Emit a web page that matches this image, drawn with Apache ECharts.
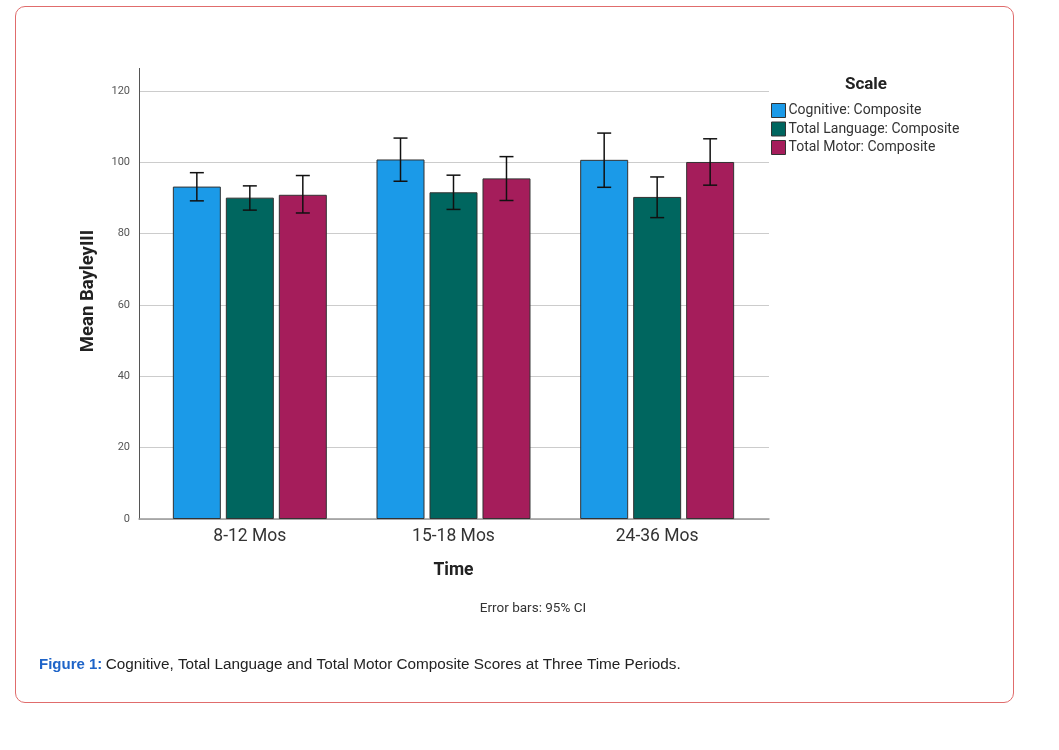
<!DOCTYPE html>
<html>
<head>
<meta charset="utf-8">
<script src="https://cdn.jsdelivr.net/npm/echarts@6/dist/echarts.min.js"></script>
<style>
html,body{margin:0;padding:0;background:#fff;}
#card{position:absolute;left:15px;top:6px;width:999px;height:697px;border:1px solid #e06c6c;border-radius:10px;box-sizing:border-box;}
#chart{position:absolute;left:0;top:0;width:1059px;height:750px;}
</style>
</head>
<body>
<div id="card"></div>
<div id="chart"></div>
<script>
const categories = ['8-12 Mos', '15-18 Mos', '24-36 Mos'];
const seriesNames = ['Cognitive: Composite', 'Total Language: Composite', 'Total Motor: Composite'];
const cognitiveMean = [93.2, 100.8, 100.7];
const languageMean = [90.1, 91.6, 90.3];
const motorMean = [90.9, 95.5, 100.1];
const cognitiveLow = [89.2, 94.7, 93.0];
const cognitiveHigh = [97.1, 106.8, 108.2];
const languageLow = [86.6, 86.8, 84.5];
const languageHigh = [93.4, 96.4, 95.9];
const motorLow = [85.8, 89.3, 93.6];
const motorHigh = [96.3, 101.6, 106.6];
const yTicks = [0, 20, 40, 60, 80, 100, 120];

const colors = ['#1b9ae8', '#00665f', '#a51d5b'];
const means = [cognitiveMean, languageMean, motorMean];
const lows = [cognitiveLow, languageLow, motorLow];
const highs = [cognitiveHigh, languageHigh, motorHigh];

const catGap = 0.244, barGapFrac = 0.104;
const chart = echarts.init(document.getElementById('chart'));

function errorSeries(si) {
  return {
    type: 'custom', xAxisIndex: 1, yAxisIndex: 1, z: 10, silent: true,
    data: categories.map((c, i) => [i, lows[si][i], highs[si][i]]),
    renderItem: function (params, api) {
      const band = api.size([1, 0])[0];
      const groupW = band * (1 - catGap);
      const barW = groupW / (3 + 2 * barGapFrac);
      const off = (si - 1) * barW * (1 + barGapFrac);
      const lo = api.coord([api.value(0), api.value(1)]);
      const hi = api.coord([api.value(0), api.value(2)]);
      const x = lo[0] + off;
      const cap = 7;
      const st = { stroke: '#111', lineWidth: 1.5 };
      return { type: 'group', children: [
        { type: 'line', shape: { x1: x, y1: lo[1], x2: x, y2: hi[1] }, style: st },
        { type: 'line', shape: { x1: x - cap, y1: lo[1], x2: x + cap, y2: lo[1] }, style: st },
        { type: 'line', shape: { x1: x - cap, y1: hi[1], x2: x + cap, y2: hi[1] }, style: st }
      ]};
    }
  };
}

const barSeries = seriesNames.map((n, si) => ({
  name: n, type: 'bar', xAxisIndex: 1, yAxisIndex: 1,
  data: means[si],
  barCategoryGap: (catGap * 100) + '%', barGap: (barGapFrac * 100) + '%',
  itemStyle: { color: colors[si], borderColor: '#333', borderWidth: 1 },
  emphasis: { disabled: true }
}));

chart.setOption({
  animation: false,
  textStyle: { fontFamily: 'Roboto' },
  grid: [
    { left: 139, width: 630, top: 91, height: 428 },
    { left: 148, width: 611, top: 91, height: 428 }
  ],
  legend: {
    orient: 'vertical', left: 771, top: 103, padding: 0, itemWidth: 14, itemHeight: 14, itemGap: 3.5,
    icon: 'rect', selectedMode: false,
    textStyle: { fontSize: 14, color: '#333', padding: [0, 0, 0, -2] },
    itemStyle: { borderColor: '#333', borderWidth: 1 },
    data: seriesNames
  },
  xAxis: [
    { type: 'category', gridIndex: 0, data: ['', '', ''],
      axisLine: { lineStyle: { color: '#999', width: 1.5 } }, axisTick: { show: false }, axisLabel: { show: false } },
    { type: 'category', gridIndex: 1, data: categories,
      axisLine: { show: false }, axisTick: { show: false },
      axisLabel: { fontSize: 17.5, color: '#333', margin: 9 },
      name: 'Time', nameLocation: 'middle', nameGap: 43,
      nameTextStyle: { fontSize: 17.5, fontWeight: 'bold', color: '#222' } }
  ],
  yAxis: [
    { type: 'value', gridIndex: 0, min: yTicks[0], max: yTicks[yTicks.length - 1], interval: 20,
      axisLine: { show: true, lineStyle: { color: '#555' } }, axisTick: { show: false },
      axisLabel: { fontSize: 11, color: '#555', margin: 9 },
      splitLine: { lineStyle: { color: '#ccc', width: 1 } } },
    { type: 'value', gridIndex: 1, min: yTicks[0], max: yTicks[yTicks.length - 1], show: false }
  ],
  graphic: [
    { type: 'line', shape: { x1: 139.5, y1: 68, x2: 139.5, y2: 91 }, style: { stroke: '#555', lineWidth: 1 } },
    { type: 'text', x: 88, y: 291, rotation: Math.PI / 2,
      style: { text: 'Mean BayleyIII', fontSize: 18.5, fontWeight: 'bold', fill: '#222', fontFamily: 'Roboto', align: 'center', verticalAlign: 'middle' } },
    { type: 'text', x: 866, y: 85, style: { text: 'Scale', fontSize: 17, fontWeight: 'bold', fill: '#222', fontFamily: 'Roboto', align: 'center', verticalAlign: 'middle' } },
    { type: 'text', x: 533, y: 609, style: { text: 'Error bars: 95% CI', fontSize: 13.5, fill: '#333', fontFamily: 'Roboto', align: 'center', verticalAlign: 'middle' } },
    { type: 'text', left: 39, top: 657, style: { rich: {
        b: { fontSize: 15, fontWeight: 'bold', fill: '#1e64c8', fontFamily: 'Liberation Sans' },
        n: { fontSize: 15.3, fill: '#222', fontFamily: 'Liberation Sans' } },
        text: '{b|Figure 1:} {n|Cognitive, Total Language and Total Motor Composite Scores at Three Time Periods.}' } }
  ],
  series: barSeries.concat([0, 1, 2].map(errorSeries))
});
</script>
</body>
</html>
